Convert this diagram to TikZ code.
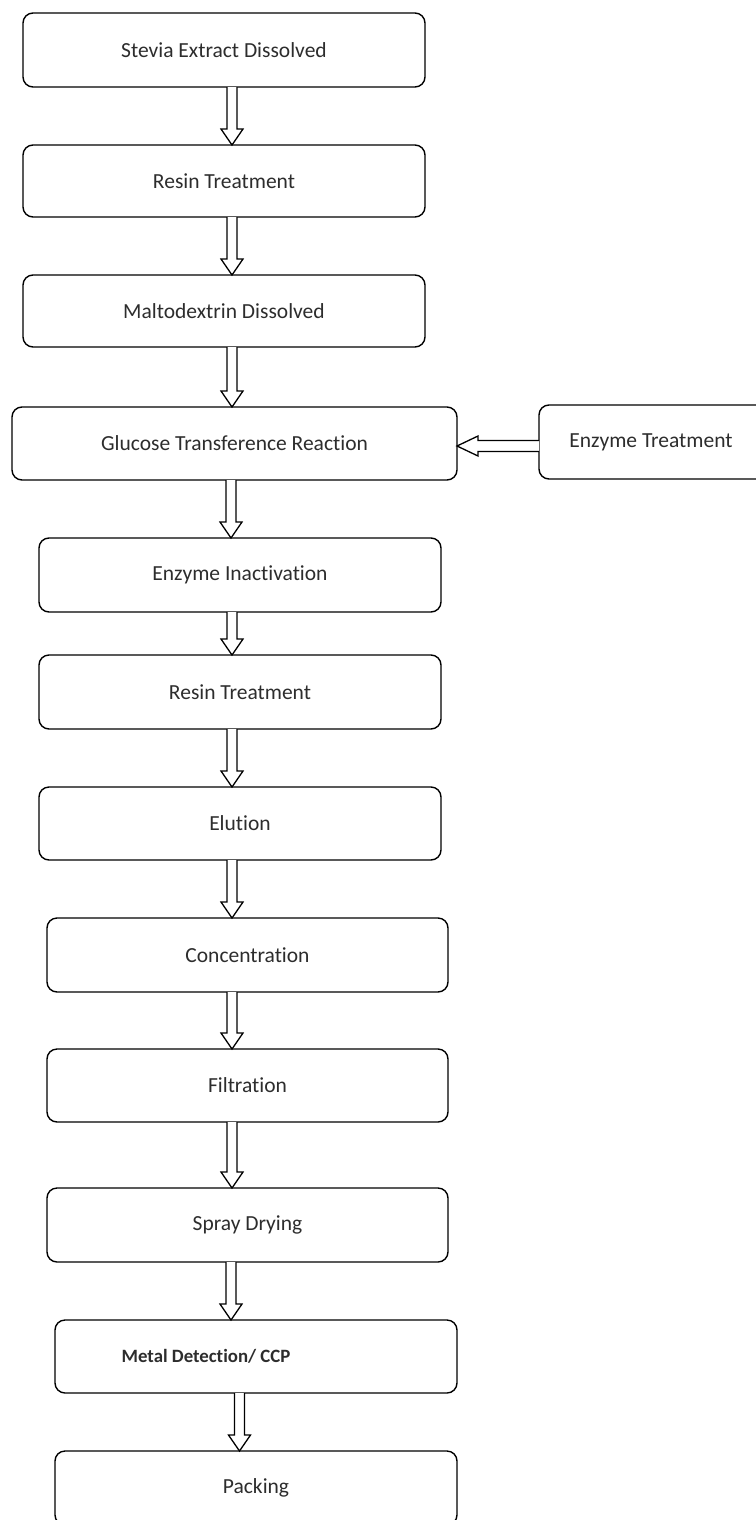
\documentclass[tikz,border=0pt]{standalone}
\usepackage{fontspec}
\setmainfont{Carlito}[Ligatures=NoCommon]
\usetikzlibrary{calc}
\definecolor{txt}{RGB}{45,45,45}
\tikzset{
  stepbox/.style={draw=black, line width=1.4pt, rounded corners=10pt, fill=white,
    inner sep=0pt, outer sep=0pt, minimum width=402pt, minimum height=74pt,
    font=\fontsize{21.5}{26}\selectfont, text=txt},
  hollowarrow/.style={draw=black, line width=1.3pt, fill=white, line join=miter}
}
\newcommand\varrow[3]{%
  \draw[hollowarrow] ($(#3 |- #1.south)+(-5,0)$) -- ($(#3 |- #2.north)+(-5,-16)$)
    -- ($(#3 |- #2.north)+(-11,-16)$) -- (#3 |- #2.north)
    -- ($(#3 |- #2.north)+(11,-16)$) -- ($(#3 |- #2.north)+(5,-16)$)
    -- ($(#3 |- #1.south)+(5,0)$);
}
\begin{document}
\begin{tikzpicture}[x=1pt,y=-1pt]
\useasboundingbox[fill=white] (0,0) rectangle (755,1520);
\node[stepbox] (n1) at (224,50) {Stevia Extract Dissolved};
\node[stepbox, minimum height=72pt] (n2) at (224,181) {Resin Treatment};
\node[stepbox, minimum height=72pt] (n3) at (224,311) {Maltodextrin Dissolved};
\node[stepbox, minimum width=445pt, minimum height=73pt] (n4) at (234.5,443.5) {Glucose Transference Reaction};
\node[stepbox, minimum width=236pt] (ne) at (657,442) {Enzyme Treatment\kern12pt};
\node[stepbox] (n5) at (240,575) {Enzyme Inactivation};
\node[stepbox] (n6) at (240,692) {Resin Treatment};
\node[stepbox, minimum height=73pt] (n7) at (240,823.5) {Elution};
\node[stepbox, minimum width=401pt] (n8) at (247.5,955) {Concentration};
\node[stepbox, minimum width=401pt, minimum height=73pt] (n9) at (247.5,1085.5) {Filtration};
\node[stepbox, minimum width=401pt] (n10) at (247.5,1225) {Spray Drying};
\node[stepbox, minimum height=73pt,
  font=\fontsize{18.8}{24}\selectfont\bfseries] (n11) at (256,1356.5) {Metal Detection/ CCP\kern100pt};
\node[stepbox] (n12) at (256,1488) {Packing};
\coordinate (ca) at (232,0);
\coordinate (cb) at (231,0);
\coordinate (cc) at (239.5,0);
\coordinate (hy) at (0,446);
\varrow{n1}{n2}{ca}
\varrow{n2}{n3}{ca}
\varrow{n3}{n4}{ca}
\varrow{n4}{n5}{cb}
\varrow{n5}{n6}{ca}
\varrow{n6}{n7}{ca}
\varrow{n7}{n8}{ca}
\varrow{n8}{n9}{ca}
\varrow{n9}{n10}{ca}
\varrow{n10}{n11}{cb}
\varrow{n11}{n12}{cc}
\draw[hollowarrow] ($(ne.west |- hy)+(0,-5.5)$) -- ($(n4.east |- hy)+(21,-5.5)$)
  -- ($(n4.east |- hy)+(21,-10)$) -- (n4.east |- hy)
  -- ($(n4.east |- hy)+(21,10)$) -- ($(n4.east |- hy)+(21,5.5)$)
  -- ($(ne.west |- hy)+(0,5.5)$);
\end{tikzpicture}
\end{document}
